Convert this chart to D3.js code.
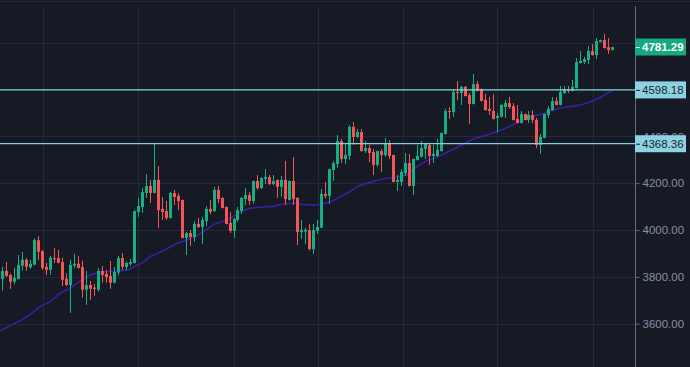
<!DOCTYPE html>
<html><head><meta charset="utf-8">
<script src="https://cdn.jsdelivr.net/npm/d3@7"></script>
<style>html,body{margin:0;padding:0;background:#161a25;overflow:hidden}svg{display:block}</style>
</head><body><svg id="c" width="690" height="367"></svg>
<script>
const open = [3791,3825,3808,3779,3791,3848,3873,3841,3852,3956, 3910,3843,3830,3880,3880,3863,3792,3765,3848,3856, 3842,3745,3765,3754,3745,3825,3812,3804,3775,3818, 3880,3842,3855,3859,4077,4098,4158,4188,4158,4214, 4090,4081,4051,4158,4145,4128,3966,3987,3970,4026, 4013,4038,4090,4081,4171,4137,4098,4030,3996,4043, 4081,4132,4149,4124,4209,4179,4218,4226,4196,4214, 4184,4214,4128,4209,4137,3991,3993,4000,3919,3997, 4010,4154,4146,4256,4282,4380,4303,4317,4440,4397, 4418,4337,4350,4333,4278,4337,4320,4371,4320,4205, 4205,4243,4286,4188,4299,4312,4346,4363,4316,4316, 4337,4410,4508,4504,4589,4585,4611,4576,4538,4623, 4602,4555,4517,4508,4478,4483,4525,4542,4529,4474, 4457,4495,4470,4491,4470,4363,4393,4491,4512,4551, 4534,4585,4602,4594,4606,4713,4717,4726,4764,4747, 4803,4811,4781,4769];
const high = [3842,3863,3813,3839,3893,3906,3880,3873,3965,3974, 3913,3860,3890,3923,3915,3882,3815,3872,3898,3888, 3869,3826,3782,3769,3838,3846,3829,3868,3842,3889, 3902,3865,3876,4083,4137,4179,4239,4214,4371,4273, 4141,4124,4162,4171,4158,4130,3991,4000,4038,4051, 4056,4102,4128,4184,4188,4139,4100,4077,4051,4098, 4141,4179,4162,4211,4235,4226,4260,4235,4235,4216, 4231,4295,4211,4312,4139,4043,4009,4026,4026,4043, 4175,4205,4262,4295,4406,4389,4367,4448,4461,4431, 4431,4380,4363,4346,4339,4346,4393,4384,4322,4235, 4260,4329,4325,4305,4363,4380,4369,4367,4363,4389, 4416,4517,4525,4598,4636,4615,4615,4585,4666,4636, 4604,4581,4568,4581,4500,4536,4555,4568,4542,4534, 4508,4497,4508,4512,4478,4410,4497,4529,4568,4568, 4615,4615,4615,4641,4734,4764,4739,4786,4794,4820, 4813,4837,4820,4783];
const low = [3741,3799,3749,3768,3789,3826,3826,3833,3850,3871, 3830,3808,3808,3859,3858,3761,3761,3646,3836,3836, 3711,3680,3702,3719,3737,3775,3775,3749,3773,3805, 3830,3829,3846,3857,4056,4073,4137,4115,4156,4009, 4043,4043,4049,4107,4085,3964,3893,3932,3949,4009, 3940,4017,4068,4077,4115,4092,4024,3987,3966,4034, 4068,4107,4107,4111,4171,4175,4196,4192,4192,4137, 4141,4107,4126,4107,3936,3962,3940,3912,3898,3983, 4008,4134,4112,4209,4265,4286,4282,4300,4363,4393, 4335,4329,4290,4235,4269,4248,4312,4303,4203,4167, 4188,4231,4186,4149,4297,4310,4303,4278,4286,4314, 4335,4408,4474,4483,4555,4534,4570,4453,4536,4592, 4549,4510,4491,4472,4418,4481,4478,4517,4468,4455, 4455,4468,4457,4457,4350,4325,4391,4478,4510,4532, 4532,4581,4585,4592,4604,4711,4709,4709,4745,4730, 4801,4775,4752,4767];
const close = [3825,3804,3779,3796,3851,3873,3843,3855,3957,3907, 3838,3830,3882,3877,3860,3787,3765,3851,3856,3838, 3745,3765,3749,3748,3825,3808,3799,3775,3821,3880, 3843,3859,3863,4081,4102,4162,4188,4158,4214,4085, 4077,4051,4158,4141,4124,3966,3987,3970,4026,4013, 4043,4090,4077,4171,4132,4094,4026,3996,4047,4085, 4137,4149,4124,4209,4179,4222,4226,4196,4209,4184, 4214,4132,4209,4132,3991,4000,4001,3919,4000,4013, 4154,4145,4260,4286,4380,4303,4320,4440,4397,4418, 4337,4350,4329,4278,4337,4320,4371,4316,4205,4214, 4248,4286,4188,4303,4316,4350,4367,4316,4325,4342, 4414,4508,4504,4589,4585,4611,4572,4538,4623,4594, 4551,4512,4508,4474,4487,4534,4542,4525,4470,4457, 4495,4470,4491,4470,4363,4397,4495,4517,4551,4534, 4589,4602,4594,4611,4717,4722,4730,4764,4747,4807, 4811,4777,4769,4781.29];
const maIdx = [-0.6,1.9,4.9,7.0,9.5,12.0,14.5,17.0,19.5,22.0, 24.5,27.0,29.5,31.6,33.7,35.4,37.0,38.7,41.2,43.8, 46.3,48.8,50.9,52.9,55.0,57.1,59.6,62.1,64.7,68.0, 70.5,73.0,75.5,78.5,79.7,82.2,84.7,87.2,89.3,91.4, 93.9,96.4,98.9,101.5,103.5,106.0,108.6,111.1,113.6,116.1, 118.6,121.1,123.6,126.1,129.9,132.4,134.9,137.4,139.9,142.4, 144.9,147.4,150.0,153.0];
const maVal = [3568,3591,3616,3640,3673,3694,3730,3751,3782,3809, 3819,3824,3826,3829,3848,3862,3886,3898,3919,3943, 3957,3976,3997,4023,4035,4049,4076,4093,4097,4101, 4111,4114,4109,4106,4110,4118,4142,4164,4188,4199, 4211,4221,4225,4235,4264,4292,4309,4328,4349,4370, 4392,4403,4417,4433,4465,4483,4493,4508,4521,4527, 4533,4547,4566,4595];
const priceTicks = [3400,3600,3800,4000,4200,4400,4600,4800];
const timeGridIdx = [10.2,34.1,58.2,79.3,100.4,124.2,148.3];
const levels = [4598.18, 4368.36];
const lastPrice = 4781.29;

const W = 690, H = 367, axisX = 635, plotTop = 6;
const svg = d3.select('#c');
const x = d3.scaleLinear().domain([0, 153]).range([2.3, 612.2]);
const y = d3.scaleLinear().domain([3400, 5000]).range([370.5, -4.2]);

const GREEN = '#16b083', RED = '#f45656', GRID = '#262a38', CYAN = '#7fd3e5';

svg.append('line').attr('x1',0).attr('x2',W).attr('y1',1.5).attr('y2',1.5).attr('stroke','#262a36').attr('stroke-width',1);

svg.append('clipPath').attr('id','clip').append('rect').attr('x',0).attr('y',plotTop).attr('width',axisX).attr('height',H-plotTop);
const plot = svg.append('g').attr('clip-path','url(#clip)');

plot.selectAll('.hg').data(priceTicks).join('line')
  .attr('x1',0).attr('x2',axisX).attr('y1',d=>Math.round(y(d))+0.5).attr('y2',d=>Math.round(y(d))+0.5)
  .attr('stroke',GRID).attr('stroke-width',1);
plot.selectAll('.vg').data(timeGridIdx).join('line')
  .attr('x1',d=>Math.round(x(d))+0.5).attr('x2',d=>Math.round(x(d))+0.5).attr('y1',plotTop).attr('y2',H)
  .attr('stroke',GRID).attr('stroke-width',1);

const maData = maIdx.map((d,i)=>[d, maVal[i]]);
plot.append('path').datum(maData)
  .attr('d', d3.line().x(d=>x(d[0])).y(d=>y(d[1])))
  .attr('fill','none').attr('stroke','#3b1fa3').attr('stroke-width',1.6);

const idx = d3.range(open.length);
const cg = plot.selectAll('.candle').data(idx).join('g');
cg.append('rect')
  .attr('x', i => Math.round(x(i)) ).attr('width',1)
  .attr('y', i => y(high[i])).attr('height', i => Math.max(1, y(low[i]) - y(high[i])))
  .attr('fill', i => close[i] >= open[i] ? GREEN : RED);
cg.append('rect')
  .attr('x', i => Math.round(x(i)) - 1).attr('width',3)
  .attr('y', i => y(Math.max(open[i],close[i])))
  .attr('height', i => Math.max(1, Math.abs(y(open[i]) - y(close[i]))))
  .attr('fill', i => close[i] >= open[i] ? GREEN : RED);

plot.selectAll('.lvl').data(levels).join('line')
  .attr('x1',0).attr('x2',axisX).attr('y1',d=>y(d)).attr('y2',d=>y(d))
  .attr('stroke',CYAN).attr('stroke-width',1.3);

const ax = svg.append('g').attr('transform',`translate(${axisX+0.5},0)`)
  .call(d3.axisRight(y).tickValues(priceTicks).tickFormat(d3.format('.2f')).tickSize(4).tickPadding(3));
ax.select('.domain').attr('stroke','#676d80').attr('d',`M0,${plotTop}V${H}`);
ax.selectAll('.tick line').attr('stroke','#676d80');
ax.selectAll('.tick text').attr('fill','#878ea2').attr('font-family','Liberation Sans, Arial, sans-serif').attr('font-size',11.5);

function labelBox(v, fill, txtColor, bold){
  const g = svg.append('g').attr('transform',`translate(${axisX},${y(v)})`);
  g.append('rect').attr('x',0).attr('y',-8.5).attr('width',51).attr('height',17).attr('fill',fill);
  g.append('line').attr('x1',1).attr('x2',5).attr('y1',0.5).attr('y2',0.5).attr('stroke',txtColor).attr('stroke-width',1);
  g.append('text').attr('x',7).attr('y',0).attr('dy','0.36em').text(d3.format('.2f')(v))
    .attr('fill',txtColor).attr('font-family','Liberation Sans, Arial, sans-serif').attr('font-size',11.5)
    .attr('font-weight',bold?'bold':'normal');
}
levels.forEach(v=>labelBox(v,'#8dd2e2','#1b1f2c',false));
labelBox(lastPrice,'#14a97e','#ffffff',true);
</script></body></html>
